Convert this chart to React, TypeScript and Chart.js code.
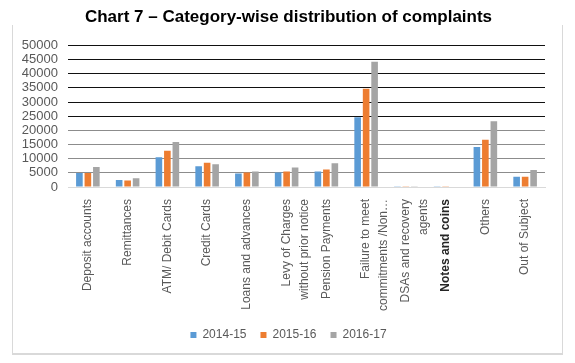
import React, { useEffect, useRef } from "react";
import { Chart, registerables } from "chart.js";

Chart.register(...registerables);

const TITLE = "Chart 7 – Category-wise distribution of complaints";

const categories: (string | string[])[] = [
  "Deposit accounts",
  "Remittances",
  "ATM/ Debit Cards",
  "Credit Cards",
  "Loans and advances",
  ["Levy of Charges", "without prior notice"],
  "Pension Payments",
  ["Failure to meet", "commitments /Non…"],
  ["DSAs and recovery", "agents"],
  "Notes and coins",
  "Others",
  "Out of Subject",
];

const seriesNames = ["2014-15", "2015-16", "2016-17"];
const seriesColors = ["#5B9BD5", "#ED7D31", "#A5A5A5"];

const values2014 = [4900, 2500, 10500, 7300, 4800, 5150, 5500, 24600, 300, 50, 14100, 3600];
const values2015 = [4900, 2300, 12800, 8600, 5150, 5500, 6200, 34700, 300, 60, 16700, 3600];
const values2016 = [7050, 3100, 15900, 8000, 5500, 6900, 8400, 44250, 250, 150, 23200, 6000];

const yMax = 50000;
const yStep = 5000;

const FONT = "'Liberation Sans', Arial, sans-serif";

const framePlugin = {
  id: "frame",
  afterLayout(chart: any) {
    const shift = 10;
    const boxes = [chart.legend, chart.titleBlock];
    boxes.forEach((b: any) => {
      if (b) {
        b.left += shift;
        b.right += shift;
      }
    });
  },
  beforeDraw(chart: any) {
    const ctx = chart.ctx;
    ctx.save();
    ctx.fillStyle = "#ffffff";
    ctx.fillRect(0, 0, chart.width, chart.height);
    ctx.strokeStyle = "#d9d9d9";
    ctx.lineWidth = 1;
    ctx.beginPath();
    ctx.moveTo(12.5, 25);
    ctx.lineTo(12.5, 354);
    ctx.moveTo(562.5, 25);
    ctx.lineTo(562.5, 354);
    ctx.stroke();
    ctx.lineWidth = 2;
    ctx.beginPath();
    ctx.moveTo(12, 354);
    ctx.lineTo(563, 354);
    ctx.stroke();
    ctx.restore();
  },
};

export default function App() {
  const ref = useRef<HTMLCanvasElement | null>(null);

  useEffect(() => {
    if (!ref.current) return;
    const dataSets = [values2014, values2015, values2016];
    const chart = new Chart(ref.current, {
      type: "bar",
      data: {
        labels: categories,
        datasets: seriesNames.map((name, i) => ({
          label: name,
          data: dataSets[i],
          backgroundColor: seriesColors[i],
          borderWidth: 0,
          barPercentage: 0.78,
          categoryPercentage: 0.64,
        })),
      },
      options: {
        animation: false,
        responsive: true,
        maintainAspectRatio: false,
        layout: { padding: { left: 12, right: 30, top: 0, bottom: 12 } },
        plugins: {
          title: {
            display: true,
            text: TITLE,
            color: "#000000",
            font: { family: FONT, size: 17, weight: "bold" },
            padding: { top: 7, bottom: 18 },
          },
          legend: {
            display: true,
            position: "bottom",
            labels: {
              boxWidth: 6,
              boxHeight: 6,
              padding: 14,
              color: "#595959",
              font: { family: FONT, size: 12 },
            },
          },
          tooltip: { enabled: false },
        },
        scales: {
          x: {
            afterFit(scale: any) {
              scale.height = 128;
            },
            grid: { display: false },
            border: { display: true, color: "#d9d9d9", width: 1 },
            ticks: {
              autoSkip: false,
              minRotation: 90,
              maxRotation: 90,
              padding: 4,
              color: (c: any) => (c.index === 9 ? "#262626" : "#595959"),
              font: (c: any) => ({
                family: FONT,
                size: 12,
                lineHeight: 1.5,
                weight: c.index === 9 ? "bold" : "normal",
              }),
            },
          },
          y: {
            min: 0,
            max: yMax,
            afterFit(scale: any) {
              scale.width = 56;
            },
            border: { display: false },
            grid: {
              drawTicks: false,
              lineWidth: 1,
              color: (c: any) => {
                const v = c.tick ? c.tick.value : 0;
                if (v === 0) return "#d9d9d9";
                return v >= 25000 ? "#111111" : "#8c8c8c";
              },
            },
            ticks: {
              stepSize: yStep,
              autoSkip: false,
              padding: 10,
              color: "#595959",
              font: { family: FONT, size: 13 },
              callback: (v: any) => String(v),
            },
          },
        },
      },
      plugins: [framePlugin],
    });
    return () => chart.destroy();
  }, []);

  return (
    <div style={{ position: "fixed", left: 0, top: 0, width: 575, height: 363, background: "#fff" }}>
      <canvas ref={ref} />
    </div>
  );
}
